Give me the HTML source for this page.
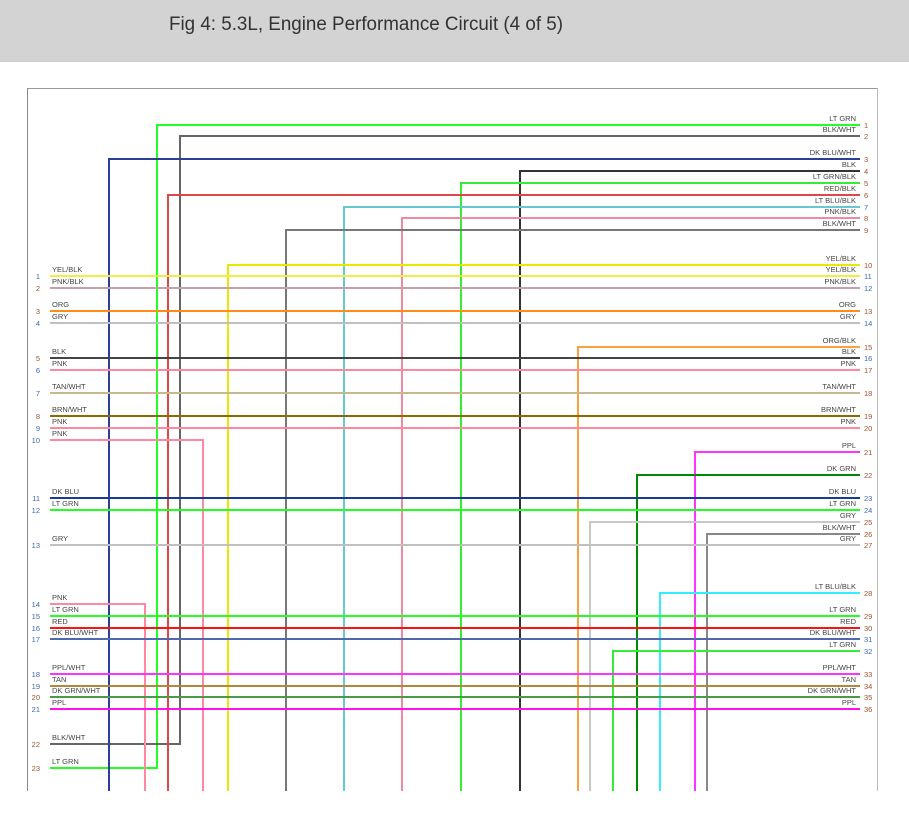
<!DOCTYPE html>
<html><head><meta charset="utf-8"><style>
html,body{margin:0;padding:0;background:#fff;width:909px;height:813px;overflow:hidden}
svg{display:block}
</style></head><body>
<svg width="909" height="813" xmlns="http://www.w3.org/2000/svg" font-family="Liberation Sans, sans-serif">
<rect x="0" y="0" width="909" height="62" fill="#d3d3d3"/>
<text x="169" y="30" font-size="19" fill="#333" textLength="394" lengthAdjust="spacingAndGlyphs">Fig 4: 5.3L, Engine Performance Circuit (4 of 5)</text>
<line x1="27" y1="88.5" x2="877" y2="88.5" stroke="#999" stroke-width="1"/>
<line x1="27.5" y1="88" x2="27.5" y2="791" stroke="#888" stroke-width="1"/>
<line x1="877.5" y1="88" x2="877.5" y2="791" stroke="#bbb" stroke-width="1"/>
<g fill="none" stroke-width="2">
<!-- verticals from right side -->
<polyline points="860,125 157,125 157,768 50,768" stroke="#22ff22"/>
<polyline points="860,136 180,136 180,744 50,744" stroke="#666"/>
<polyline points="860,159 109,159 109,791" stroke="#2a3f98"/>
<polyline points="860,171 520,171 520,791" stroke="#333"/>
<polyline points="860,183 461,183 461,791" stroke="#33ee33"/>
<polyline points="860,195 168,195 168,791" stroke="#e04848"/>
<polyline points="860,207 344,207 344,791" stroke="#66c8d0"/>
<polyline points="860,218 402,218 402,791" stroke="#f08aa0"/>
<polyline points="860,230 286,230 286,791" stroke="#777"/>
<polyline points="860,265 228,265 228,791" stroke="#e8e800"/>
<line x1="50" y1="276" x2="860" y2="276" stroke="#eeee44"/>
<line x1="50" y1="288" x2="860" y2="288" stroke="#c9a0a8"/>
<line x1="50" y1="311" x2="860" y2="311" stroke="#ff8c1a"/>
<line x1="50" y1="323" x2="860" y2="323" stroke="#c0c0c0"/>
<polyline points="860,347 578,347 578,791" stroke="#ffa040"/>
<line x1="50" y1="358" x2="860" y2="358" stroke="#444"/>
<line x1="50" y1="370" x2="860" y2="370" stroke="#ff88a0"/>
<line x1="50" y1="393" x2="860" y2="393" stroke="#c8b890"/>
<line x1="50" y1="416" x2="860" y2="416" stroke="#8b6a00"/>
<line x1="50" y1="428" x2="860" y2="428" stroke="#ff88a0"/>
<polyline points="50,440 203,440 203,791" stroke="#ff88a0"/>
<polyline points="860,452 695,452 695,791" stroke="#ff33ff"/>
<polyline points="860,475 637,475 637,791" stroke="#008800"/>
<line x1="50" y1="498" x2="860" y2="498" stroke="#1a3a9a"/>
<line x1="50" y1="510" x2="860" y2="510" stroke="#22ff22"/>
<polyline points="860,522 590,522 590,791" stroke="#c8c8c8"/>
<polyline points="860,534 707,534 707,791" stroke="#888"/>
<line x1="50" y1="545" x2="860" y2="545" stroke="#c0c0c0"/>
<polyline points="860,593 660,593 660,791" stroke="#33eeff"/>
<polyline points="50,604 145,604 145,791" stroke="#ff88a0"/>
<line x1="50" y1="616" x2="860" y2="616" stroke="#22ff22"/>
<line x1="50" y1="628" x2="860" y2="628" stroke="#ff1111"/>
<line x1="50" y1="639" x2="860" y2="639" stroke="#5068b0"/>
<polyline points="860,651 613,651 613,791" stroke="#33ee33"/>
<line x1="50" y1="674" x2="860" y2="674" stroke="#ff33ff"/>
<line x1="50" y1="686" x2="860" y2="686" stroke="#b08840"/>
<line x1="50" y1="697" x2="860" y2="697" stroke="#4a9a4a"/>
<line x1="50" y1="709" x2="860" y2="709" stroke="#ff11ee"/>
</g>
<g font-size="7.5" fill="#444" text-anchor="end">
<text x="856" y="121">LT GRN</text>
<text x="856" y="132">BLK/WHT</text>
<text x="856" y="155">DK BLU/WHT</text>
<text x="856" y="167">BLK</text>
<text x="856" y="179">LT GRN/BLK</text>
<text x="856" y="191">RED/BLK</text>
<text x="856" y="203">LT BLU/BLK</text>
<text x="856" y="214">PNK/BLK</text>
<text x="856" y="226">BLK/WHT</text>
<text x="856" y="261">YEL/BLK</text>
<text x="856" y="272">YEL/BLK</text>
<text x="856" y="284">PNK/BLK</text>
<text x="856" y="307">ORG</text>
<text x="856" y="319">GRY</text>
<text x="856" y="343">ORG/BLK</text>
<text x="856" y="354">BLK</text>
<text x="856" y="366">PNK</text>
<text x="856" y="389">TAN/WHT</text>
<text x="856" y="412">BRN/WHT</text>
<text x="856" y="424">PNK</text>
<text x="856" y="448">PPL</text>
<text x="856" y="471">DK GRN</text>
<text x="856" y="494">DK BLU</text>
<text x="856" y="506">LT GRN</text>
<text x="856" y="518">GRY</text>
<text x="856" y="530">BLK/WHT</text>
<text x="856" y="541">GRY</text>
<text x="856" y="589">LT BLU/BLK</text>
<text x="856" y="612">LT GRN</text>
<text x="856" y="624">RED</text>
<text x="856" y="635">DK BLU/WHT</text>
<text x="856" y="647">LT GRN</text>
<text x="856" y="670">PPL/WHT</text>
<text x="856" y="682">TAN</text>
<text x="856" y="693">DK GRN/WHT</text>
<text x="856" y="705">PPL</text>
</g>
<g font-size="7.5" fill="#a0522d">
<text x="864" y="128">1</text><text x="864" y="139">2</text><text x="864" y="162">3</text><text x="864" y="174">4</text>
<text x="864" y="186">5</text><text x="864" y="198">6</text><text x="864" y="210" fill="#3a6ab0">7</text><text x="864" y="221">8</text>
<text x="864" y="233">9</text><text x="864" y="268">10</text><text x="864" y="279" fill="#3a6ab0">11</text><text x="864" y="291" fill="#3a6ab0">12</text>
<text x="864" y="314">13</text><text x="864" y="326" fill="#3a6ab0">14</text><text x="864" y="350">15</text><text x="864" y="361" fill="#3a6ab0">16</text>
<text x="864" y="373">17</text><text x="864" y="396">18</text><text x="864" y="419">19</text><text x="864" y="431">20</text>
<text x="864" y="455">21</text><text x="864" y="478">22</text><text x="864" y="501" fill="#3a6ab0">23</text><text x="864" y="513" fill="#3a6ab0">24</text>
<text x="864" y="525">25</text><text x="864" y="537">26</text><text x="864" y="548">27</text><text x="864" y="596">28</text>
<text x="864" y="619">29</text><text x="864" y="631">30</text><text x="864" y="642" fill="#3a6ab0">31</text><text x="864" y="654" fill="#3a6ab0">32</text>
<text x="864" y="677">33</text><text x="864" y="689">34</text><text x="864" y="700">35</text><text x="864" y="712">36</text>
</g>
<g font-size="7.5" fill="#444">
<text x="52" y="272">YEL/BLK</text><text x="52" y="284">PNK/BLK</text>
<text x="52" y="307">ORG</text><text x="52" y="319">GRY</text>
<text x="52" y="354">BLK</text><text x="52" y="366">PNK</text>
<text x="52" y="389">TAN/WHT</text><text x="52" y="412">BRN/WHT</text>
<text x="52" y="424">PNK</text><text x="52" y="436">PNK</text>
<text x="52" y="494">DK BLU</text><text x="52" y="506">LT GRN</text>
<text x="52" y="541">GRY</text>
<text x="52" y="600">PNK</text><text x="52" y="612">LT GRN</text><text x="52" y="624">RED</text><text x="52" y="635">DK BLU/WHT</text>
<text x="52" y="670">PPL/WHT</text><text x="52" y="682">TAN</text><text x="52" y="693">DK GRN/WHT</text><text x="52" y="705">PPL</text>
<text x="52" y="740">BLK/WHT</text><text x="52" y="764">LT GRN</text>
</g>
<g font-size="7.5" fill="#3a6ab0" text-anchor="end">
<text x="40" y="279">1</text><text x="40" y="291" fill="#a0522d">2</text>
<text x="40" y="314" fill="#a0522d">3</text><text x="40" y="326">4</text>
<text x="40" y="361" fill="#a0522d">5</text><text x="40" y="373">6</text>
<text x="40" y="396">7</text><text x="40" y="419" fill="#a0522d">8</text>
<text x="40" y="431">9</text><text x="40" y="443">10</text>
<text x="40" y="501">11</text><text x="40" y="513">12</text>
<text x="40" y="548">13</text>
<text x="40" y="607">14</text><text x="40" y="619">15</text><text x="40" y="631">16</text><text x="40" y="642">17</text>
<text x="40" y="677">18</text><text x="40" y="689">19</text><text x="40" y="700" fill="#a0522d">20</text><text x="40" y="712">21</text>
<text x="40" y="747" fill="#a0522d">22</text><text x="40" y="771" fill="#a0522d">23</text>
</g>
</svg>
</body></html>
